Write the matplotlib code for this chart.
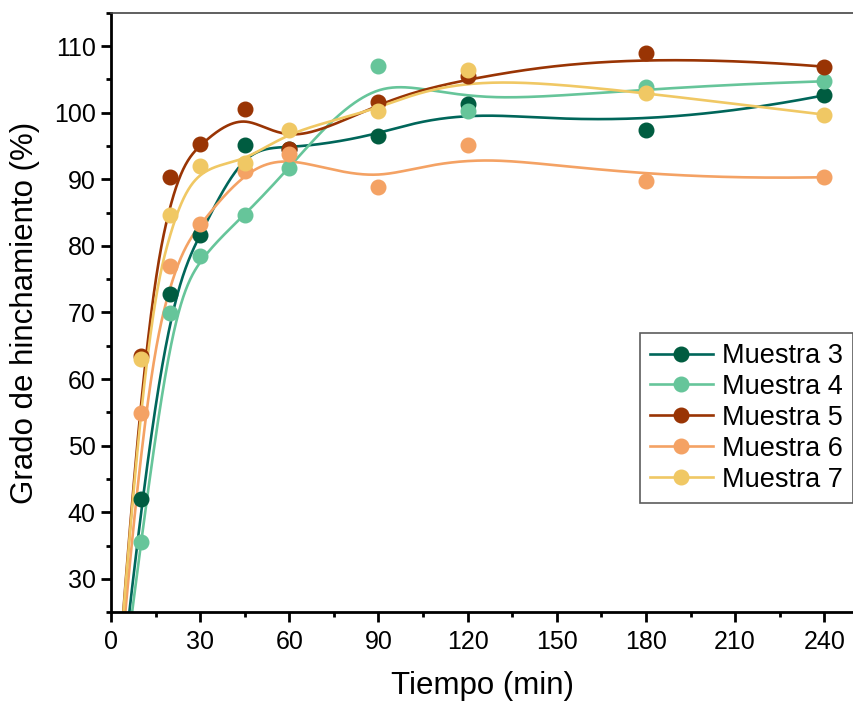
import numpy as np
import matplotlib
matplotlib.use("Agg")
import matplotlib.pyplot as plt
from matplotlib.ticker import MultipleLocator

plt.rcParams['font.family'] = ['Liberation Sans', 'DejaVu Sans']

# Tiempo de inmersión (min) y grado de hinchamiento (%) por muestra
tiempo = [0, 10, 20, 30, 45, 60, 90, 120, 180, 240]
muestra_3 = [0, 42.0, 72.8, 81.6, 95.1, 94.5, 96.5, 101.3, 97.4, 102.6]
muestra_4 = [0, 35.5, 69.9, 78.4, 84.6, 91.7, 107.0, 100.3, 103.9, 104.7]
muestra_5 = [0, 63.5, 90.4, 95.3, 100.5, 94.6, 101.6, 105.5, 109.0, 106.9]
muestra_6 = [0, 54.9, 77.0, 83.3, 91.3, 93.8, 88.8, 95.2, 89.8, 90.3]
muestra_7 = [0, 63.0, 84.6, 92.0, 92.5, 97.4, 100.3, 106.4, 102.9, 99.7]

# (nombre, valores, color de línea, color de marcador)
series = [
    ("Muestra 3", muestra_3, "#00665a", "#005c40"),
    ("Muestra 4", muestra_4, "#66c59a", "#66c59a"),
    ("Muestra 5", muestra_5, "#993404", "#993404"),
    ("Muestra 6", muestra_6, "#f4a264", "#f4a264"),
    ("Muestra 7", muestra_7, "#f0c864", "#f0c864"),
]


def bspline(px, py, k=3, n=600):
    """Clamped uniform B-spline using the data points as control points."""
    px = np.asarray(px, float)
    py = np.asarray(py, float)
    m = len(px)
    knots = np.concatenate([np.zeros(k), np.arange(m - k + 1), np.full(k, m - k)]).astype(float)
    t = np.linspace(0, m - k, n)
    t[-1] -= 1e-9
    N = np.zeros((len(knots) - 1, n))
    for i in range(len(knots) - 1):
        N[i] = (knots[i] <= t) & (t < knots[i + 1])
    for d in range(1, k + 1):
        Nn = np.zeros((len(knots) - 1 - d, n))
        for i in range(len(knots) - 1 - d):
            a = knots[i + d] - knots[i]
            b = knots[i + d + 1] - knots[i + 1]
            left = (t - knots[i]) / a * N[i] if a > 0 else 0
            right = (knots[i + d + 1] - t) / b * N[i + 1] if b > 0 else 0
            Nn[i] = left + right
        N = Nn
    return N.T @ px, N.T @ py


fig = plt.figure(figsize=(8.54, 7.06), dpi=100)
ax = fig.add_axes([0.130, 0.133, 0.870, 0.849])

LW = 1.9
MS = 10.5

for name, vals, lcolor, mcolor in series:
    sx, sy = bspline(tiempo, vals)
    ax.plot(sx, sy, color=lcolor, lw=LW, zorder=2)
    ax.plot(tiempo, vals, 'o', color=mcolor, ms=MS, zorder=3)

# legend entries: line with the marker in the middle
handles = [
    plt.Line2D([0, 0.5, 1], [0, 0, 0], color=lc, lw=LW, marker='o', ms=MS,
               markevery=[1], markerfacecolor=mc, markeredgecolor=mc)
    for _, _, lc, mc in series
]
leg = ax.legend(
    handles, [s[0] for s in series],
    loc='upper left', bbox_to_anchor=(0.712, 0.466), frameon=True, fancybox=False,
    edgecolor='#333333', fontsize=19.5, handlelength=2.3, handletextpad=0.35,
    labelspacing=0.18, borderpad=0.38, borderaxespad=0.0,
)
leg.get_frame().set_linewidth(1.2)

ax.set_xlim(0, 250)
ax.set_ylim(25, 115)
ax.xaxis.set_major_locator(MultipleLocator(30))
ax.xaxis.set_minor_locator(MultipleLocator(15))
ax.yaxis.set_minor_locator(MultipleLocator(5))
ax.set_yticks(np.arange(30, 111, 10))

ax.tick_params(which='major', direction='out', length=7, width=2, labelsize=18, pad=4)
ax.tick_params(which='minor', direction='out', length=3.5, width=2)
ax.tick_params(axis='x', pad=6)

for side in ('left', 'bottom'):
    ax.spines[side].set_linewidth(2)
    ax.spines[side].set_color('black')
ax.spines['top'].set_linewidth(1.2)
ax.spines['top'].set_color('#444444')
ax.spines['right'].set_visible(False)

ax.set_xlabel("Tiempo (min)", fontsize=22.5, labelpad=12)
ax.set_ylabel("Grado de hinchamiento (%)", fontsize=22.5, labelpad=10)

fig.savefig("out.png", dpi=100)
